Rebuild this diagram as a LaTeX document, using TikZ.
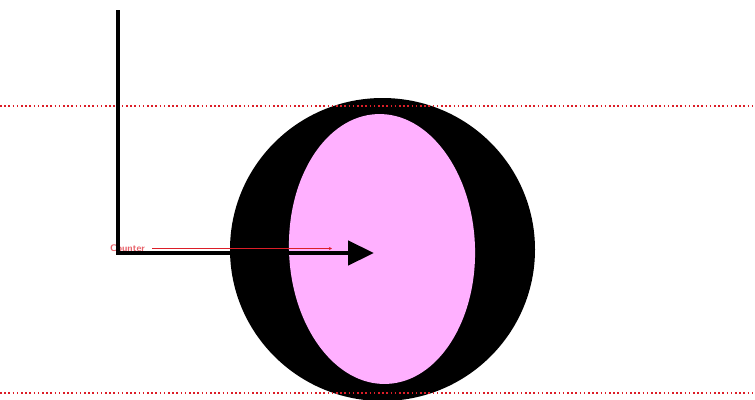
\documentclass[tikz,border=0pt]{standalone}
\usepackage{xcolor}
\usepackage{tikz}
\usetikzlibrary{arrows.meta}

\definecolor{counterpink}{RGB}{255,176,255}
\definecolor{guidered}{RGB}{220,30,40}

\begin{document}
\begin{tikzpicture}[x=1pt,y=-1pt,
  guide/.style={guidered, line width=1.8pt, dash pattern=on 1.6pt off 2.6pt},
  pointer/.style={line width=4.5pt, -{Triangle[length=26pt,width=24pt]}},
  lbltext/.style={text=guidered!70, font=\sffamily\bfseries\fontsize{9.5}{9.5}\selectfont, inner sep=0pt}]
\useasboundingbox (0,0) rectangle (755,399);
% glyph O: bowl and counter
\fill[black] (382.5,249.5) ellipse (152.5pt and 151.5pt);
\fill[counterpink, rotate around={2:(382,249)}] (382,249) ellipse (93pt and 135pt);
% ascender and baseline
\draw[guide] (0,106) -- (755,106);
\draw[guide] (0,393) -- (755,393);
% label for the counter
\node[lbltext, anchor=west] (lbl) at (110,248.5) {Counter};
\coordinate (ctip) at (332,248.5);
\draw[guidered, line width=0.8pt, -{Stealth[length=3pt,width=3pt]}] ([xshift=7pt]lbl.east) -- (ctip);
% black pointer
\coordinate (ptop) at (118,10);
\coordinate (pcorner) at (118,253);
\coordinate (phead) at (374,253);
\draw[pointer] (ptop) -- (pcorner) -- (phead);
\end{tikzpicture}
\end{document}
